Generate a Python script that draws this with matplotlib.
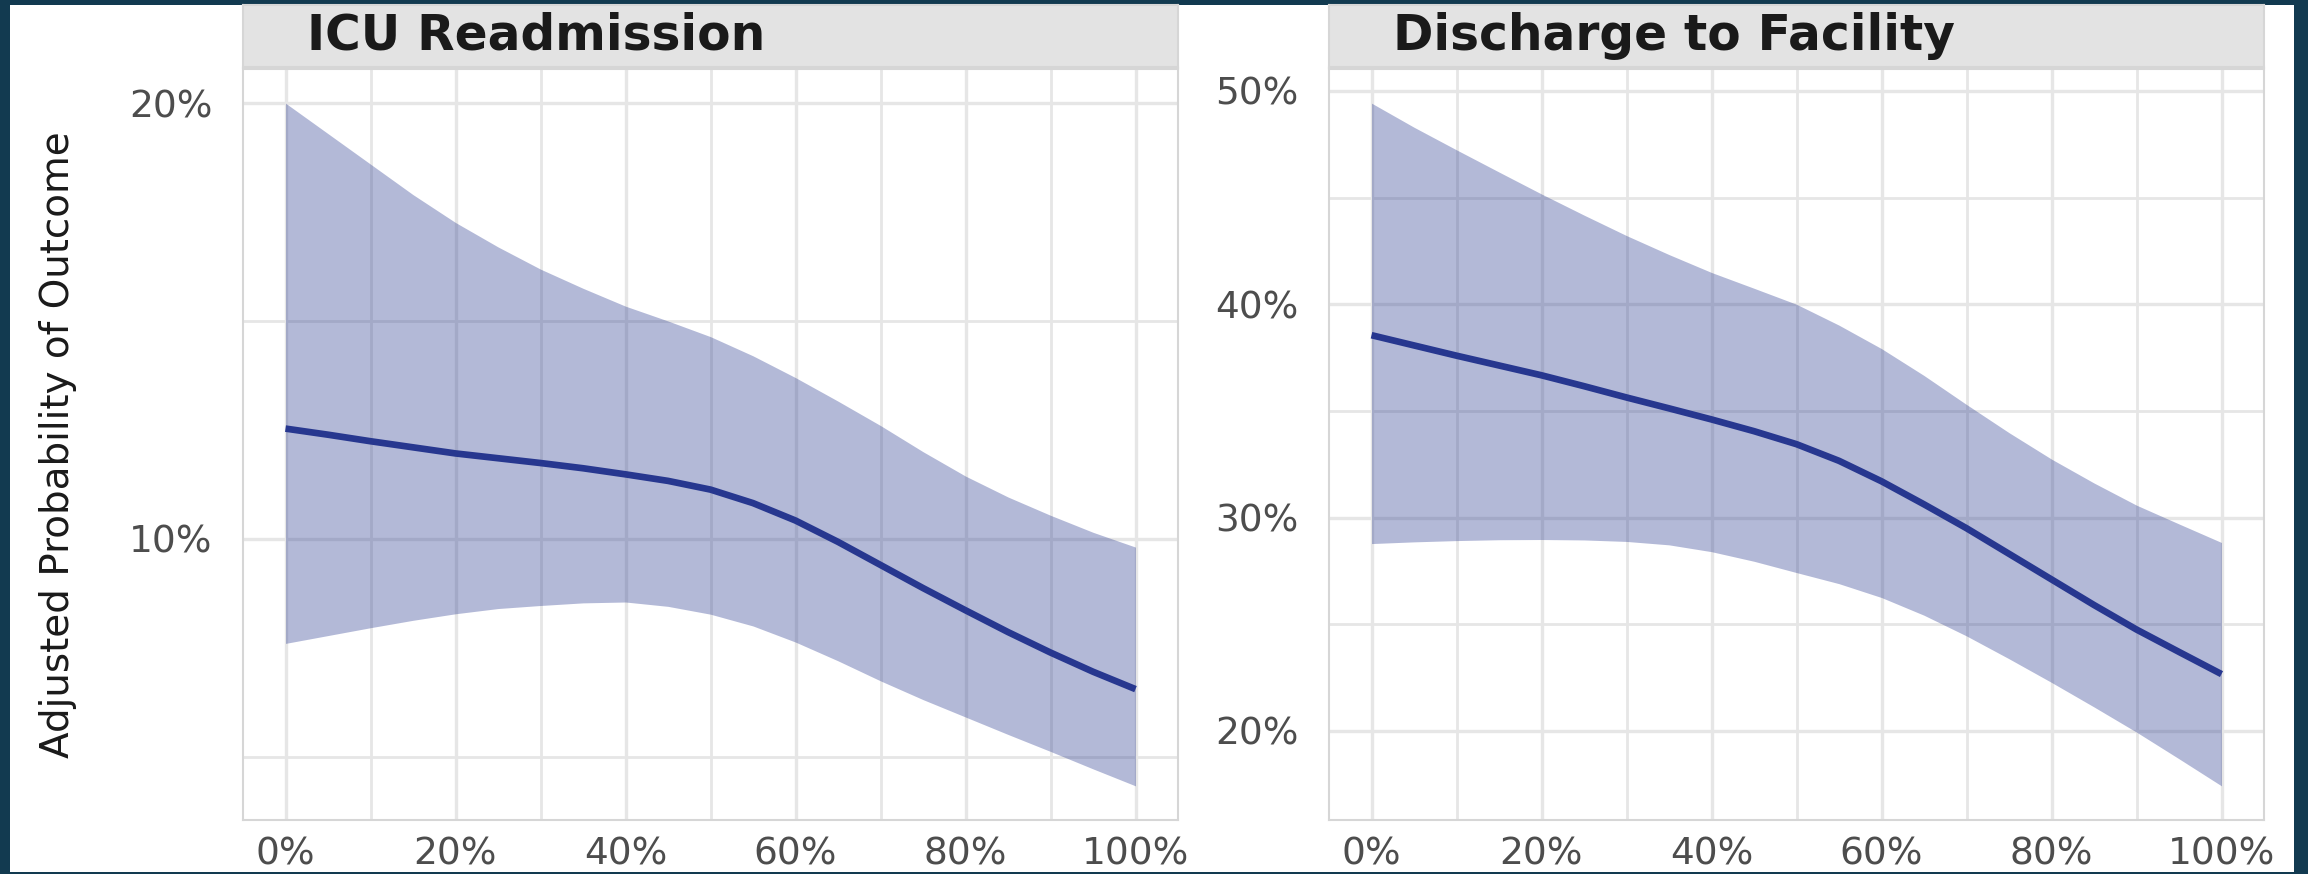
import numpy as np
import matplotlib.pyplot as plt
from matplotlib.ticker import FixedLocator, FuncFormatter

# x axis: share of the exposure (percent)
x_pct = [0, 5, 10, 15, 20, 25, 30, 35, 40, 45, 50,
         55, 60, 65, 70, 75, 80, 85, 90, 95, 100]

# ICU Readmission (adjusted probability, percent)
icu_fit = [12.53, 12.39, 12.24, 12.10, 11.96, 11.85, 11.74, 11.62, 11.48, 11.33, 11.13,
           10.82, 10.42, 9.93, 9.40, 8.87, 8.36, 7.86, 7.39, 6.95, 6.55]
icu_low = [7.60, 7.78, 7.96, 8.13, 8.28, 8.40, 8.47, 8.53, 8.55, 8.45, 8.27,
           8.00, 7.63, 7.20, 6.74, 6.31, 5.91, 5.51, 5.12, 4.72, 4.33]
icu_high = [20.0, 19.3, 18.6, 17.9, 17.26, 16.7, 16.19, 15.75, 15.34, 15.0, 14.64,
            14.20, 13.70, 13.16, 12.60, 12.0, 11.44, 10.96, 10.54, 10.15, 9.81]

# Discharge to Facility (adjusted probability, percent)
dis_fit = [38.55, 38.07, 37.59, 37.13, 36.67, 36.16, 35.63, 35.12, 34.60, 34.05, 33.44,
           32.66, 31.70, 30.62, 29.50, 28.30, 27.10, 25.90, 24.75, 23.70, 22.66]
dis_low = [28.78, 28.86, 28.92, 28.96, 28.97, 28.95, 28.88, 28.72, 28.40, 27.95, 27.42,
           26.90, 26.25, 25.42, 24.45, 23.38, 22.27, 21.12, 19.94, 18.69, 17.42]
dis_high = [49.43, 48.3, 47.24, 46.2, 45.17, 44.18, 43.22, 42.33, 41.49, 40.75, 40.0,
            39.02, 37.92, 36.66, 35.3, 33.98, 32.74, 31.62, 30.58, 29.70, 28.83]

panel_titles = ["ICU Readmission", "Discharge to Facility"]
y_major = [[10, 20], [20, 30, 40, 50]]
y_minor = [[5, 15], [25, 35, 45]]
x_major = [0, 20, 40, 60, 80, 100]
x_minor = [10, 30, 50, 70, 90]

frame_col = "#123a50"
line_col = "#27378f"
grid_col = "#e6e6e6"

plt.rcParams["font.family"] = ["DejaVu Sans"]

W, H = 2308, 874
fig = plt.figure(figsize=(W / 100, H / 100), dpi=100, facecolor=frame_col)

# white card inside the dark frame
card = fig.add_axes([10 / W, (H - 872) / H, (2294 - 10) / W, (872 - 5) / H])
card.set_facecolor("white")
card.set_xticks([])
card.set_yticks([])
for s in card.spines.values():
    s.set_visible(False)
card.set_zorder(0)

panel_left = [243, 1329]
panel_w = 935
panel_top, panel_bot = 69, 820
strip_top = 5

series = [(icu_fit, icu_low, icu_high), (dis_fit, dis_low, dis_high)]

pct = FuncFormatter(lambda v, p: f"{v:.0f}%")

for i in range(2):
    fit, low, high = series[i]
    ax = fig.add_axes([panel_left[i] / W, (H - panel_bot) / H,
                       panel_w / W, (panel_bot - panel_top) / H])
    ax.set_zorder(1)
    ax.set_facecolor("white")
    ax.fill_between(x_pct, low, high, color=line_col, alpha=0.35, lw=0, zorder=2)
    ax.plot(x_pct, fit, color=line_col, lw=4.8, solid_capstyle="butt",
            solid_joinstyle="round", zorder=3)
    ax.margins(x=0.05, y=0.05)

    ax.xaxis.set_major_locator(FixedLocator(x_major))
    ax.xaxis.set_minor_locator(FixedLocator(x_minor))
    ax.yaxis.set_major_locator(FixedLocator(y_major[i]))
    ax.yaxis.set_minor_locator(FixedLocator(y_minor[i]))
    ax.xaxis.set_major_formatter(pct)
    ax.yaxis.set_major_formatter(pct)

    ax.set_axisbelow(True)
    ax.grid(which="major", color=grid_col, lw=2.4)
    ax.grid(which="minor", color=grid_col, lw=2.0)
    ax.tick_params(which="both", length=0)
    ax.tick_params(axis="x", labelsize=27, labelcolor="#4d4d4d", pad=12)
    ax.tick_params(axis="y", labelsize=27, labelcolor="#4d4d4d", pad=22)
    for s in ax.spines.values():
        s.set_color("#d6d6d6")
        s.set_linewidth(1.5)

    # facet strip
    st = fig.add_axes([panel_left[i] / W, (H - panel_top + 2) / H,
                       panel_w / W, (panel_top - 2 - strip_top) / H])
    st.set_zorder(1)
    st.set_facecolor("#e3e3e3")
    st.set_xticks([])
    st.set_yticks([])
    for s in st.spines.values():
        s.set_color("#d6d6d6")
        s.set_linewidth(1.5)
    st.text(64 / panel_w, 0.5, panel_titles[i], transform=st.transAxes,
            ha="left", va="center", fontsize=35, fontweight="bold", color="#1a1a1a")

fig.text(58 / W, (H - 445) / H, "Adjusted Probability of Outcome", rotation=90,
         ha="center", va="center", fontsize=28, color="#1a1a1a", zorder=2)

fig.savefig("out.png", dpi=100, facecolor=frame_col)
